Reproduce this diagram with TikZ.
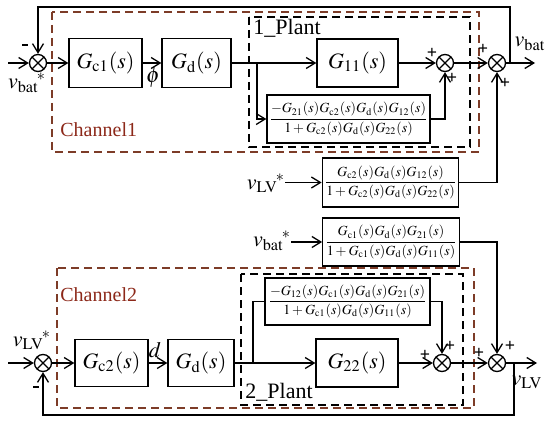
\documentclass[tikz,border=0pt]{standalone}
\usepackage{amsmath}
\usepackage{mathptmx}
\usepackage{fontspec}
\setmainfont{Liberation Serif}
\usetikzlibrary{arrows.meta}
\definecolor{ChannelRed}{RGB}{140, 40, 25}
\definecolor{ChannelDash}{RGB}{125, 60, 40}

\tikzset{
  >={Straight Barb[length=4.5pt,width=5.5pt]},
  wire/.style={line width=0.65pt},
  blk/.style={draw, line width=0.65pt, inner sep=0pt, font=\fontsize{11}{13}\selectfont},
  frac/.style={draw, line width=0.65pt, inner sep=0.8pt, font=\fontsize{7}{8}\selectfont},
  sumj/.style={draw, circle, line width=0.65pt, minimum size=8.5pt, inner sep=0pt,
    path picture={\draw[line width=0.6pt]
      (path picture bounding box.north west) -- (path picture bounding box.south east)
      (path picture bounding box.north east) -- (path picture bounding box.south west);}},
  sgn/.style={inner sep=0pt, font=\fontsize{9}{9}\selectfont\bfseries},
  lbl/.style={inner sep=0pt, font=\fontsize{11}{13}\selectfont},
  chanlbl/.style={inner sep=0pt, text=ChannelRed, font=\fontsize{10}{12}\selectfont},
  plantbox/.style={draw, line width=0.75pt, dash pattern=on 4pt off 2.5pt},
  chanbox/.style={draw=ChannelDash, line width=0.75pt, dash pattern=on 4pt off 2.5pt},
}

\begin{document}
\begin{tikzpicture}[x=0.5pt, y=-0.5pt]
  \useasboundingbox (0,0) rectangle (550,422);

  % channel 1
  \draw[chanbox] (52,12) rectangle (479,152);
  \draw[plantbox] (249,17) rectangle (470,147);
  \node[chanlbl, anchor=west] (ch1) at (60,130) {Channel1};
  \node[lbl, anchor=north west] (plant1) at (253,19) {1\_Plant};

  \node[sumj] (s1) at (38,63) {};
  \node[blk, minimum width=36.5pt, minimum height=24.5pt] (gc1) at (105.5,63) {$G_{\mathrm{c1}}(s)$};
  \node[blk, minimum width=34.5pt, minimum height=24.5pt] (gd1) at (196.5,63) {$G_{\mathrm{d}}(s)$};
  \node[blk, minimum width=40.5pt, minimum height=24pt] (g11) at (357.5,63) {$G_{11}(s)$};
  \node[sumj] (s2) at (445,63) {};
  \node[sumj] (s4) at (497,63) {};
  \node[frac, minimum width=75.5pt, minimum height=24pt] (f1) at (348.5,119)
    {$\dfrac{-G_{21}(s)G_{\mathrm{c2}}(s)G_{\mathrm{d}}(s)G_{12}(s)}{1+G_{\mathrm{c2}}(s)G_{\mathrm{d}}(s)G_{22}(s)}$};
  \node[frac, minimum width=63.5pt, minimum height=24.5pt] (f3) at (390.5,182.5)
    {$\dfrac{G_{\mathrm{c2}}(s)G_{\mathrm{d}}(s)G_{12}(s)}{1+G_{\mathrm{c2}}(s)G_{\mathrm{d}}(s)G_{22}(s)}$};

  \node[lbl] (vbatref1) at (27,83) {${v_{\mathrm{bat}}}^{\!*}$};
  \node[lbl] (vlvref1) at (266,183) {${v_{\mathrm{LV}}}^{\!*}$};
  \node[lbl] (vbatout1) at (530,44) {$v_{\mathrm{bat}}$};
  \node[lbl] (phi) at (153,78) {$\phi$};
  \node[sgn] (m1) at (25,45) {\rule{3pt}{1.2pt}};
  \node[sgn] (p1) at (432,53) {+};
  \node[sgn] (p2) at (452,78) {+};
  \node[sgn] (p3) at (483,49) {+};
  \node[sgn] (p4) at (505,83) {+};

  \coordinate (in1) at (8,63);
  \coordinate (br1) at (257,63);
  \coordinate (fb1) at (510,63);
  \coordinate (fbtop) at (510,7);
  \coordinate (out1) at (535,63);

  \draw[wire,->] (in1) -- (s1);
  \draw[wire,->] (s1) -- (gc1);
  \draw[wire,->] (gc1) -- (gd1);
  \draw[wire,->] (gd1) -- (g11);
  \draw[wire,->] (br1) |- (f1);
  \draw[wire,->] (g11) -- (s2);
  \draw[wire,->] (f1) -| (s2);
  \draw[wire,->] (s2) -- (s4);
  \draw[wire,->] (vlvref1.east |- f3.west) -- (f3.west);
  \draw[wire,->] (f3) -| (s4);
  \draw[wire,->] (s4) -- (out1);
  \draw[wire,->] (fb1) -- (fbtop) -| (s1);

  % channel 2
  \draw[chanbox] (57,268) rectangle (474,408);
  \draw[plantbox] (241,274) rectangle (463,405);
  \node[chanlbl, anchor=west] (ch2) at (60,295) {Channel2};
  \node[lbl, anchor=south west] (plant2) at (245,402) {2\_Plant};

  \node[sumj] (s5) at (43,363) {};
  \node[blk, minimum width=36.5pt, minimum height=23.5pt] (gc2) at (111.5,363) {$G_{\mathrm{c2}}(s)$};
  \node[blk, minimum width=33pt, minimum height=23.5pt] (gd2) at (201,363) {$G_{\mathrm{d}}(s)$};
  \node[blk, minimum width=41pt, minimum height=24pt] (g22) at (357,363) {$G_{22}(s)$};
  \node[sumj] (s6) at (442,363) {};
  \node[sumj] (s8) at (497,363) {};
  \node[frac, minimum width=82.5pt, minimum height=23.5pt] (f2) at (347.5,301.5)
    {$\dfrac{-G_{12}(s)G_{\mathrm{c1}}(s)G_{\mathrm{d}}(s)G_{21}(s)}{1+G_{\mathrm{c1}}(s)G_{\mathrm{d}}(s)G_{11}(s)}$};
  \node[frac, minimum width=63pt, minimum height=24pt] (f4) at (391,242)
    {$\dfrac{G_{\mathrm{c1}}(s)G_{\mathrm{d}}(s)G_{21}(s)}{1+G_{\mathrm{c1}}(s)G_{\mathrm{d}}(s)G_{11}(s)}$};

  \node[lbl] (vlvref2) at (32,340) {${v_{\mathrm{LV}}}^{\!*}$};
  \node[lbl] (vbatref2) at (272,241) {${v_{\mathrm{bat}}}^{\!*}$};
  \node[lbl] (vlvout2) at (527,382) {$v_{\mathrm{LV}}$};
  \node[lbl] (dlbl) at (155,350) {$d$};
  \node[sgn] (m2) at (36,387) {\rule{3pt}{1.2pt}};
  \node[sgn] (p5) at (425,355) {+};
  \node[sgn] (p6) at (450,346) {+};
  \node[sgn] (p7) at (479,353) {+};
  \node[sgn] (p8) at (510,346) {+};

  \coordinate (in2) at (8,363);
  \coordinate (br2) at (253,363);
  \coordinate (fb2) at (514,363);
  \coordinate (fbbot) at (514,415);
  \coordinate (out2) at (537,363);

  \draw[wire,->] (in2) -- (s5);
  \draw[wire,->] (s5) -- (gc2);
  \draw[wire,->] (gc2) -- (gd2);
  \draw[wire,->] (gd2) -- (g22);
  \draw[wire] (br2) |- (f2);
  \draw[wire,->] (g22) -- (s6);
  \draw[wire,->] (f2) -| (s6);
  \draw[wire,->] (s6) -- (s8);
  \draw[wire,->] (vbatref2.east |- f4.west) -- (f4.west);
  \draw[wire,->] (f4) -| (s8);
  \draw[wire,->] (s8) -- (out2);
  \draw[wire,->] (fb2) -- (fbbot) -| (s5);
\end{tikzpicture}
\end{document}
